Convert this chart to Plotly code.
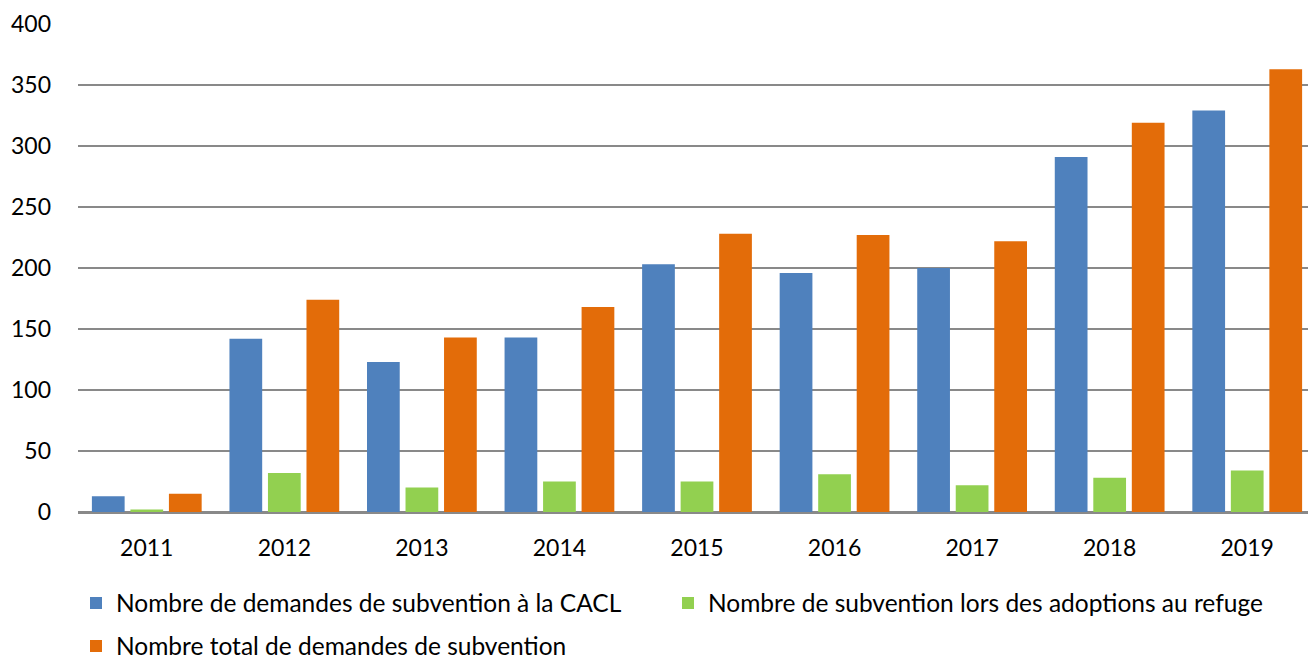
import plotly.graph_objects as go

years = ["2011", "2012", "2013", "2014", "2015", "2016", "2017", "2018", "2019"]
cacl = [13, 142, 123, 143, 203, 196, 200, 291, 329]
refuge = [2, 32, 20, 25, 25, 31, 22, 28, 34]
total = [15, 174, 143, 168, 228, 227, 222, 319, 363]

names = [
    "Nombre de demandes de subvention à la CACL",
    "Nombre de subvention lors des adoptions au refuge",
    "Nombre total de demandes de subvention",
]
colors = ["#4F81BD", "#92D050", "#E36C09"]

FONT = "Lato"
LEG_SIZE = 24.5
W, H = 1308, 652

fig = go.Figure()
fig.add_trace(go.Bar(x=years, y=cacl, name=names[0], marker_color=colors[0],
                     marker_line_width=0, legend="legend", showlegend=True))
fig.add_trace(go.Bar(x=years, y=refuge, name=names[1], marker_color=colors[1],
                     marker_line_width=0, legend="legend3", showlegend=True))
fig.add_trace(go.Bar(x=years, y=total, name=names[2], marker_color=colors[2],
                     marker_line_width=0, legend="legend2", showlegend=True))

leg_common = dict(orientation="h", xref="container", yref="container",
                  xanchor="left", yanchor="middle",
                  font=dict(family=FONT, size=LEG_SIZE), itemwidth=30,
                  bgcolor="rgba(0,0,0,0)")

fig.update_layout(
    width=W, height=H,
    showlegend=True,
    margin=dict(l=70, r=0, t=16, b=148, autoexpand=False),
    plot_bgcolor="white", paper_bgcolor="white",
    font=dict(family=FONT, size=23, color="#000000"),
    barmode="group", bargap=0.16, bargroupgap=0.15,
    legend=dict(x=68 / W, y=1 - 595 / H, **leg_common),
    legend3=dict(x=660 / W, y=1 - 595 / H, **leg_common),
    legend2=dict(x=68 / W, y=1 - 638 / H, **leg_common),
)
fig.update_xaxes(showgrid=False, showline=True, linecolor="#898989", linewidth=2,
                 ticks="", ticklabelstandoff=14, tickfont=dict(size=23), automargin=False)
fig.update_yaxes(range=[0, 400], dtick=50, showgrid=True, gridcolor="#898989",
                 gridwidth=2, zeroline=True, zerolinecolor="#898989", zerolinewidth=2,
                 showline=False, ticks="", ticklabelstandoff=26, tickfont=dict(size=23),
                 automargin=False)

fig.write_html("out.html")
